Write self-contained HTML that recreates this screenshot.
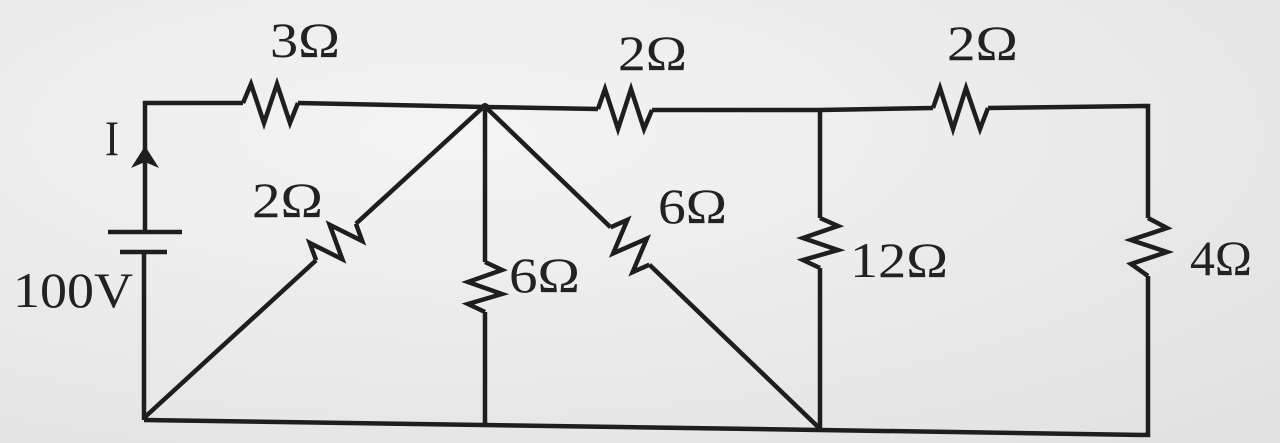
<!DOCTYPE html>
<html><head><meta charset="utf-8"><style>
html,body{margin:0;padding:0;width:1280px;height:443px;overflow:hidden;background:#ececec}
svg{display:block}
text{font-family:"Liberation Serif",serif;font-size:50px;fill:#222}
</style></head><body>
<svg width="1280" height="443" viewBox="0 0 1280 443" xmlns="http://www.w3.org/2000/svg">
<defs>
<radialGradient id="bg" cx="0.35" cy="0.3" r="0.9">
<stop offset="0" stop-color="#f4f4f4"/><stop offset="1" stop-color="#e2e2e2"/>
</radialGradient>
</defs>
<rect width="1280" height="443" fill="url(#bg)"/>
<g stroke="#1e1e1e" stroke-width="4.5" fill="none" stroke-linejoin="miter">
<polyline points="145,232 145,103 243,103"/>
<path d="M243,103 L251,84 L264,123 L277,84 L290,123 L298,103"/>
<line x1="298" y1="103" x2="485" y2="107"/>
<line x1="108" y1="232" x2="182" y2="232"/>
<line x1="120" y1="252" x2="167" y2="252"/>
<line x1="144" y1="252" x2="144" y2="420"/>
<line x1="485" y1="107" x2="598" y2="109"/>
<path d="M598,109 L605,89 L618,129 L631,89 L644,129 L652,110"/>
<line x1="652" y1="110" x2="820" y2="110"/>
<line x1="820" y1="110" x2="933" y2="108"/>
<path d="M933,108 L940,88 L953,129 L966,88 L980,129 L988,108"/>
<polyline points="988,108 1148,106 1148,218"/>
<polyline points="144,420 820,430 1148,435 1148,276"/>
<path d="M1148,218 L1167,228 L1131,240 L1167,252 L1131,264 L1148,276"/>
<line x1="820" y1="110" x2="820" y2="218"/>
<path d="M820,218 L838,226 L803,238 L838,250 L803,260 L820,268"/>
<line x1="820" y1="268" x2="820" y2="430"/>
<line x1="485" y1="107" x2="485" y2="262"/>
<path d="M485,262 L502,270 L468,282 L502,294 L468,304 L485,312"/>
<line x1="485" y1="312" x2="485" y2="425"/>
<g transform="translate(336,242) rotate(-42.5)">
<line x1="-260" y1="0" x2="-27" y2="0"/>
<path d="M-27,0 L-20,-17 L-7,17 L7,-17 L20,17 L27,0"/>
<line x1="27" y1="0" x2="202" y2="0"/>
</g>
<g transform="translate(630,246) rotate(43.9)">
<line x1="-201" y1="0" x2="-27" y2="0"/>
<path d="M-27,0 L-20,-17 L-7,17 L7,-17 L20,17 L27,0"/>
<line x1="27" y1="0" x2="264" y2="0"/>
</g>
</g>
<circle cx="485" cy="107" r="4" fill="#1e1e1e"/>
<polygon points="145,146 131,168 145,162 159,168" fill="#1e1e1e"/>
<text x="270" y="57" textLength="70" lengthAdjust="spacingAndGlyphs">3Ω</text>
<text x="618" y="70" textLength="69" lengthAdjust="spacingAndGlyphs">2Ω</text>
<text x="947" y="60" textLength="71" lengthAdjust="spacingAndGlyphs">2Ω</text>
<text x="105" y="155" textLength="14" lengthAdjust="spacingAndGlyphs">I</text>
<text x="252" y="217" textLength="71" lengthAdjust="spacingAndGlyphs">2Ω</text>
<text x="658" y="223" textLength="69" lengthAdjust="spacingAndGlyphs">6Ω</text>
<text x="509" y="292" textLength="71" lengthAdjust="spacingAndGlyphs">6Ω</text>
<text x="850" y="277" textLength="98" lengthAdjust="spacingAndGlyphs">12Ω</text>
<text x="1190" y="275" textLength="62" lengthAdjust="spacingAndGlyphs">4Ω</text>
<text x="13" y="307" textLength="120" lengthAdjust="spacingAndGlyphs">100V</text>
</svg>
</body></html>
